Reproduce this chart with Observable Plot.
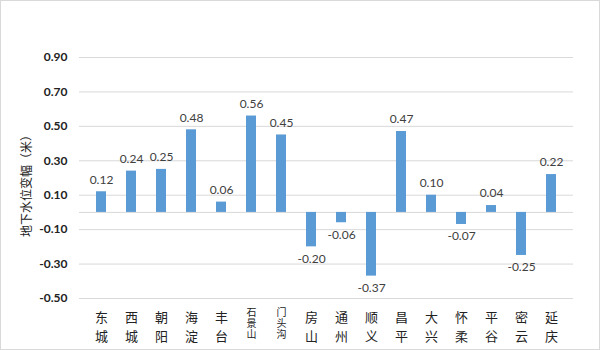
<!DOCTYPE html>
<html><head><meta charset="utf-8">
<script src="https://cdn.jsdelivr.net/npm/d3@7"></script>
<script src="https://cdn.jsdelivr.net/npm/@observablehq/plot@0.6"></script>
<style>
body{margin:0;background:#fff}
svg{display:block;outline:1px solid #d9d9d9;outline-offset:-1px}
</style>
</head><body><div id="chart"></div>
<script>
const districts = ["东城","西城","朝阳","海淀","丰台","石景山","门头沟","房山","通州","顺义","昌平","大兴","怀柔","平谷","密云","延庆"];
const changes = [0.12,0.24,0.25,0.48,0.06,0.56,0.45,-0.20,-0.06,-0.37,0.47,0.10,-0.07,0.04,-0.25,0.22];
const yTicks = [-0.5,-0.3,-0.1,0.1,0.3,0.5,0.7,0.9];
const yTitle = "地下水位变幅（米）";

const data = districts.map((d, i) => ({district: d, value: changes[i], label: changes[i].toFixed(2)}));
const two = data.filter(d => d.district.length === 2);
const three = data.filter(d => d.district.length === 3);
const vertical = d => d.district.split("").join("\n");
const numFont = "Lato, 'Open Sans', sans-serif";
const cjkFont = "'Noto Sans CJK SC', sans-serif";

const chart = Plot.plot({
  width: 600, height: 350,
  marginLeft: 79, marginRight: 27, marginTop: 57, marginBottom: 52,
  x: {domain: districts, paddingInner: 0.68, paddingOuter: 0.34, axis: null},
  y: {domain: [-0.5, 0.9], axis: null},
  style: {background: "#fff", fontFamily: numFont},
  marks: [
    Plot.gridY(yTicks, {stroke: "#d9d9d9", strokeOpacity: 1}),
    Plot.ruleY([0], {stroke: "#d9d9d9", strokeOpacity: 1}),
    Plot.barY(data, {x: "district", y: "value", fill: "#5b9bd5"}),
    Plot.text(data.filter(d => d.value >= 0), {x: "district", y: "value", text: "label", dy: -12, fontSize: 12, fill: "#404040", fontFamily: numFont}),
    Plot.text(data.filter(d => d.value < 0), {x: "district", y: "value", text: "label", dy: 12, fontSize: 12, fill: "#404040", fontFamily: numFont}),
    Plot.axisY(yTicks, {tickSize: 0, tickPadding: 12, fontWeight: "bold", fontSize: 12, fill: "#222", tickFormat: d => d.toFixed(2), label: null, fontFamily: numFont}),
    Plot.text(two, {x: "district", text: vertical, frameAnchor: "bottom", lineAnchor: "top", dy: 10, lineHeight: 1.46, fontSize: 13, fill: "#222", fontFamily: cjkFont}),
    Plot.text(three, {x: "district", text: vertical, frameAnchor: "bottom", lineAnchor: "top", dy: 10, lineHeight: 1.1, fontSize: 10, fill: "#222", fontFamily: cjkFont}),
    Plot.text([yTitle], {frameAnchor: "left", textAnchor: "middle", dx: -52, dy: 5, rotate: -90, fontSize: 12, fill: "#222", fontFamily: cjkFont})
  ]
});
document.getElementById("chart").append(chart);
</script>
</body></html>
